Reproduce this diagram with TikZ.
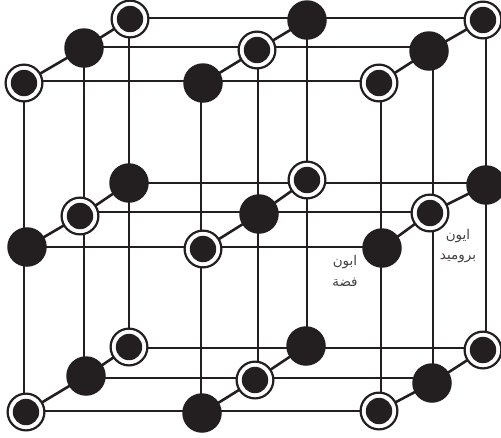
\documentclass[tikz,border=0pt]{standalone}
\usepackage{fontspec}
\TeXXeTstate=1
\newfontfamily\arabicfont[Script=Arabic]{DejaVu Sans}
\definecolor{ink}{HTML}{231F20}
\pgfdeclarelayer{bonds}
\pgfsetlayers{bonds,main}
\newcommand{\hlink}[3]{\draw[bond] (#2.center |- 0,#1) -- (#3.center |- 0,#1);}
\newcommand{\vlink}[3]{\draw[bond] (#1,0 |- #2.center) -- (#1,0 |- #3.center);}
\tikzset{
  bond/.style={draw=ink,line width=2.6pt},
  silver/.style={circle,fill=ink,draw=none,minimum size=39.5pt,inner sep=0pt,outer sep=0pt},
  bromide/.style={circle,fill=white,draw=ink,line width=2.2pt,minimum size=36.8pt,inner sep=0pt,outer sep=0pt,
    path picture={\fill[ink] (path picture bounding box.center) circle (13.2pt);}},
  caption/.style={font=\arabicfont\fontsize{13.5}{20.5}\selectfont,text=ink!85,align=center,inner sep=0pt}
}
\begin{document}
\begin{tikzpicture}[x=1pt,y=-1pt]
\useasboundingbox (0,0) rectangle (501,437);
\node[bromide] (a1) at (24,83) {};
\node[silver]  (a2) at (84,48) {};
\node[bromide] (a3) at (130,19) {};
\node[silver]  (a4) at (203,83) {};
\node[bromide] (a5) at (257,50) {};
\node[silver]  (a6) at (307,20) {};
\node[bromide] (a7) at (379,83) {};
\node[silver]  (a8) at (429,51) {};
\node[bromide] (a9) at (483,20) {};
\node[silver]  (b1) at (27,247) {};
\node[bromide] (b2) at (80,216) {};
\node[silver]  (b3) at (129,183) {};
\node[bromide] (b4) at (203,249) {};
\node[silver]  (b5) at (259,214) {};
\node[bromide] (b6) at (307,180) {};
\node[silver]  (b7) at (382,248) {};
\node[bromide] (b8) at (430,213) {};
\node[silver]  (b9) at (486,185) {};
\node[bromide] (c1) at (26,412) {};
\node[silver]  (c2) at (86,376) {};
\node[bromide] (c3) at (129,347) {};
\node[silver]  (c4) at (202,413) {};
\node[bromide] (c5) at (255,380) {};
\node[silver]  (c6) at (306,346) {};
\node[bromide] (c7) at (379,411) {};
\node[silver]  (c8) at (432,383) {};
\node[bromide] (c9) at (483,350) {};
\begin{pgfonlayer}{bonds}
\hlink{18}{a3}{a9}\hlink{47}{a2}{a8}\hlink{81}{a1}{a7}
\hlink{183}{b3}{b9}\hlink{212}{b2}{b8}\hlink{247}{b1}{b7}
\hlink{348}{c3}{c9}\hlink{378}{c2}{c8}\hlink{411}{c1}{c7}
\vlink{24}{a1}{c1}\vlink{84}{a2}{c2}\vlink{129}{a3}{c3}
\vlink{201}{a4}{c4}\vlink{258}{a5}{c5}\vlink{307}{a6}{c6}
\vlink{381}{a7}{c7}\vlink{433}{a8}{c8}\vlink{486}{a9}{c9}
\foreach \l in {a,b,c}{
  \draw[bond] (\l1.center) -- (\l2.center) -- (\l3.center);
  \draw[bond] (\l4.center) -- (\l5.center) -- (\l6.center);
  \draw[bond] (\l7.center) -- (\l8.center) -- (\l9.center);
}
\end{pgfonlayer}
\node[caption] (lblAg) at (345,271) {\beginR ابون\endR\\\beginR فضة\endR};
\node[caption] (lblBr) at (458,246) {\beginR ايون\endR\\\beginR بروميد\endR};
\end{tikzpicture}
\end{document}
